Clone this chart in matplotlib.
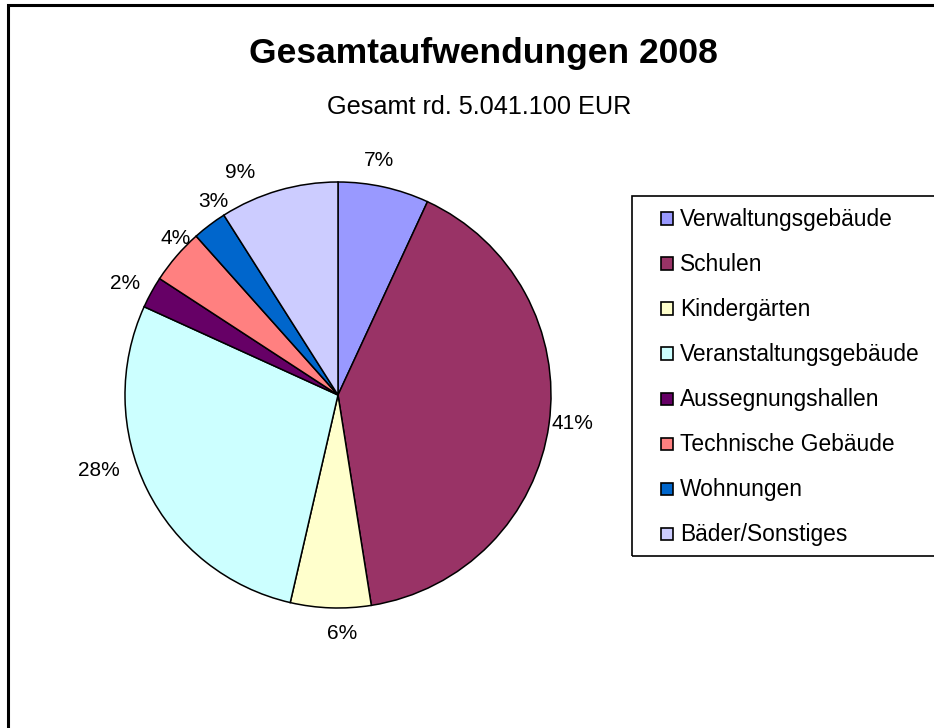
import numpy as np
import matplotlib
matplotlib.use("Agg")
import matplotlib.pyplot as plt
from matplotlib.patches import Rectangle

plt.rcParams['font.family'] = ['Liberation Sans', 'DejaVu Sans']

# data (shares in %)
categories = ["Verwaltungsgebäude", "Schulen", "Kindergärten", "Veranstaltungsgebäude",
              "Aussegnungshallen", "Technische Gebäude", "Wohnungen", "Bäder/Sonstiges"]
shares = [6.9, 40.6, 6.1, 28.2, 2.4, 4.2, 2.6, 9.0]
colors = ["#9999FF", "#993366", "#FFFFCC", "#CCFFFF", "#660066", "#FF8080", "#0066CC", "#CCCCFF"]

# label placement tweaks (degrees clockwise, radius factor) to mimic Excel's layout
lab_nudge = [-2.5, -1.0, -3.0, 8.7, -1.2, 3.2, 4.2, -7.5]
lab_dist = [1.12, 1.11, 1.12, 1.18, 1.13, 1.06, 1.08, 1.14]

W, H = 934, 728
fig = plt.figure(figsize=(W / 100, H / 100), dpi=100)

# pie axes: centre (338, 395) px, radius 213 px
cx, cy, r = 338, 395, 213
ax = fig.add_axes([(cx - r) / W, (H - cy - r) / H, 2 * r / W, 2 * r / H])
wedges, _ = ax.pie(shares, colors=colors, startangle=90, counterclock=False, radius=1,
                   wedgeprops=dict(edgecolor="black", linewidth=1.1))
for w, val, nd, dist in zip(wedges, shares, lab_nudge, lab_dist):
    mid = np.deg2rad((w.theta1 + w.theta2) / 2 - nd)
    ax.text(dist * np.cos(mid), dist * np.sin(mid), f"{val:.0f}%",
            ha="center", va="center", fontsize=15)
ax.set_xlim(-1, 1)
ax.set_ylim(-1, 1)
ax.set_aspect("equal")
ax.axis("off")

# titles
fig.text(483 / W, 1 - 54 / H, "Gesamtaufwendungen 2008", ha="center", va="center",
         fontsize=25.5, fontweight="bold")
fig.text(479 / W, 1 - 107 / H, "Gesamt rd. 5.041.100 EUR", ha="center", va="center",
         fontsize=18.2)

# outer frame (cropped at right and bottom)
fig.patches.append(Rectangle((8 / W, -0.05), 1.2, 1 - 5 / H + 0.05, transform=fig.transFigure,
                             fill=False, edgecolor="black", linewidth=2.2))

# legend box (extends past the right edge)
lx, ly_top, ly_bot = 632, 196, 556
fig.patches.append(Rectangle((lx / W, 1 - ly_bot / H), 0.5, (ly_bot - ly_top) / H,
                             transform=fig.transFigure, fill=False,
                             edgecolor="black", linewidth=1.2))
step = (ly_bot - ly_top) / len(categories)
for i, (lab, col) in enumerate(zip(categories, colors)):
    yc = ly_top + step * (i + 0.5)
    fig.patches.append(Rectangle((661 / W, 1 - (yc + 6) / H), 12 / W, 12 / H,
                                 transform=fig.transFigure, facecolor=col,
                                 edgecolor="black", linewidth=1.2))
    fig.text(680 / W, 1 - (yc + 1) / H, lab, ha="left", va="center", fontsize=16.4)

fig.savefig("out.png", dpi=100)
